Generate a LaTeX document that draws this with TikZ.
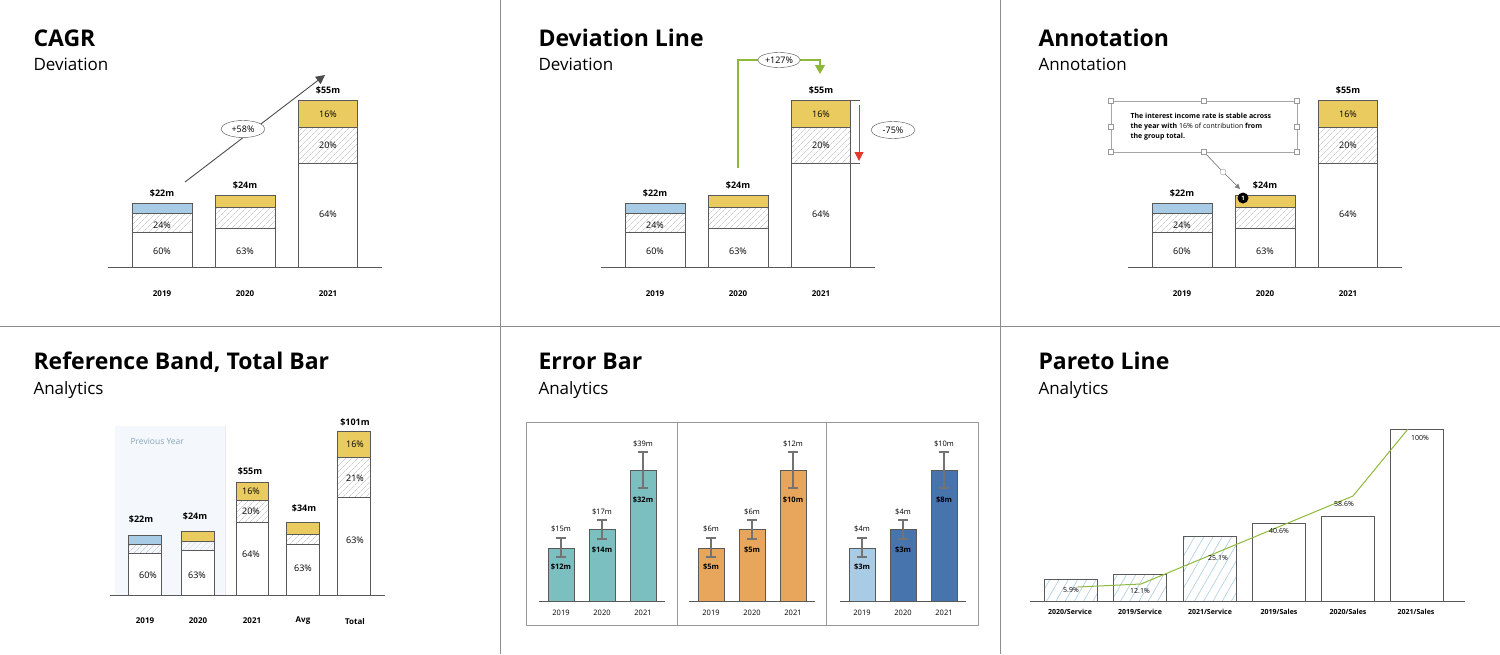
\documentclass[tikz,border=0pt]{standalone}
\usepackage{fontspec}
\setmainfont{Open Sans}
\usetikzlibrary{patterns.meta,arrows.meta,shapes.geometric}
\definecolor{cyel}{HTML}{EACB60}
\definecolor{cblu}{HTML}{A9CCE6}
\definecolor{cteal}{HTML}{7BBFC1}
\definecolor{corg}{HTML}{E8A65C}
\definecolor{cdblu}{HTML}{4874AD}
\definecolor{cgrn}{HTML}{8DB83A}
\definecolor{cred}{HTML}{E03A2E}
\definecolor{cband}{HTML}{F4F8FC}
\begin{document}
\begin{tikzpicture}[x=1pt,y=-1pt]
		\tikzset{ttl/.style={anchor=base west, font=\fontsize{23}{23}\selectfont\bfseries},
			sub/.style={anchor=base west, font=\fontsize{17}{17}\selectfont},
			val/.style={font=\fontsize{9}{9}\selectfont\bfseries},
			pct/.style={font=\fontsize{9}{9}\selectfont},
			yr/.style={font=\fontsize{8}{8}\selectfont\bfseries},
			bar/.style={draw=black!65, line width=0.9pt},
			hatch/.style={bar, pattern={Lines[angle=45,distance=4pt,line width=0.3pt]}, pattern color=black!30},
			bhatch/.style={bar, pattern={Lines[angle=60,distance=8pt,line width=0.6pt]}, pattern color=cblu},
			base/.style={draw=black!65, line width=0.9pt},
			oval/.style={draw=black!70, ellipse, inner sep=1pt, minimum width=44pt, minimum height=17pt, font=\fontsize{9}{9}\selectfont},
			hnd/.style={draw=black!40, fill=white, minimum size=5pt, inner sep=0pt}};
		\useasboundingbox (0,0) rectangle (1500,654);

		% panel grid
		\draw[black!45, line width=1pt] (500,0) -- (500,654);
		\draw[black!45, line width=1pt] (1000,0) -- (1000,654);
		\draw[black!45, line width=1pt] (0,326) -- (1500,326);

		% titles
		\node[ttl] (t1) at (30,46) {CAGR};
		\node[sub] (s1) at (30,70) {Deviation};
		\node[ttl] (t2) at (535,46) {Deviation Line};
		\node[sub] (s2) at (535,70) {Deviation};
		\node[ttl] (t3) at (1035,46) {Annotation};
		\node[sub] (s3) at (1035,70) {Annotation};
		\node[ttl] (t4) at (30,369) {Reference Band, Total Bar};
		\node[sub] (s4) at (30,394) {Analytics};
		\node[ttl] (t5) at (535,369) {Error Bar};
		\node[sub] (s5) at (535,394) {Analytics};
		\node[ttl] (t6) at (1035,369) {Pareto Line};
		\node[sub] (s6) at (1035,394) {Analytics};

		% three stacked bar charts
		\foreach \dx/\bx in {0/a, 493/b, 1020/c} {
			\draw[base] (108+\dx,267) -- (382+\dx,267);
			\draw[bar, fill=cblu] (132+\dx,203) rectangle (192+\dx,213);
			\draw[hatch] (132+\dx,213) rectangle (192+\dx,232);
			\draw[bar, fill=white] (132+\dx,232) rectangle (192+\dx,267);
			\draw[bar, fill=cyel] (215+\dx,195) rectangle (275+\dx,207);
			\draw[hatch] (215+\dx,207) rectangle (275+\dx,228);
			\draw[bar, fill=white] (215+\dx,228) rectangle (275+\dx,267);
			\draw[bar, fill=cyel] (298+\dx,100) rectangle (357+\dx,127);
			\draw[hatch] (298+\dx,127) rectangle (357+\dx,163);
			\draw[bar, fill=white] (298+\dx,163) rectangle (357+\dx,267);
			\node[val] (\bx v1) at (162+\dx,193) {\$22m};
			\node[val] (\bx v2) at (245+\dx,185) {\$24m};
			\node[val] (\bx v3) at (328+\dx,90) {\$55m};
			\node[pct] (\bx p1) at (162+\dx,225) {24\%};
			\node[pct] (\bx p2) at (162+\dx,251) {60\%};
			\node[pct] (\bx p3) at (245+\dx,251) {63\%};
			\node[pct] (\bx p4) at (328+\dx,114) {16\%};
			\node[pct] (\bx p5) at (328+\dx,145) {20\%};
			\node[pct] (\bx p6) at (328+\dx,214) {64\%};
			\node[yr] (\bx y1) at (162+\dx,294) {2019};
			\node[yr] (\bx y2) at (245+\dx,294) {2020};
			\node[yr] (\bx y3) at (328+\dx,294) {2021};
		}

		% CAGR arrow
		\coordinate (cg0) at (185,182);
		\coordinate (cg1) at (325,75);
		\draw[black!70, line width=0.9pt, -{Triangle[length=9pt,width=9pt]}] (cg0) -- (cg1);
		\node[oval, fill=white] (cagr) at (243,129) {+58\%};

		% deviation line
		\coordinate (dv0) at (738,168);
		\coordinate (dv1) at (738,60);
		\coordinate (dv2) at (820,60);
		\coordinate (dv3) at (820,74);
		\draw[cgrn, line width=1.1pt, -{Triangle[length=9pt,width=10pt]}] (dv0) -- (dv1) -- (dv2) -- (dv3);
		\node[oval, fill=white, minimum width=42pt, minimum height=15pt] (dev) at (779,60) {+127\%};
		\draw[black!65, line width=0.8pt] (850,100) -- (860,100);
		\draw[black!65, line width=0.8pt] (850,163) -- (860,163);
		\coordinate (rd0) at (859,105);
		\coordinate (rd1) at (859,161);
		\draw[cred, line width=1pt, -{Triangle[length=9pt,width=9pt]}] (rd0) -- (rd1);
		\node[oval] (drop) at (893,130) {-75\%};

		% annotation
		\draw[black!35, line width=1pt] (1111,101) rectangle (1297,152);
		\foreach \hx/\hy [count=\i] in {1111/101, 1204/101, 1297/101, 1111/127, 1297/127, 1111/152, 1204/152, 1297/152}
			\node[hnd] (h\i) at (\hx,\hy) {};
		\node[anchor=north west, align=left, font=\fontsize{7}{10}\selectfont\bfseries] (note) at (1127,110)
			{The interest income rate is stable across\\the year with \mdseries 16\% of contribution \bfseries from\\the group total.};
		\node[draw=black!40, circle, fill=white, minimum size=6pt, inner sep=0pt] (knob) at (1223,172) {};
		\coordinate (ap) at (1240,189);
		\draw[black!50, line width=0.7pt] (h7) -- (knob);
		\draw[black!50, line width=0.7pt, -{Triangle[length=5pt,width=5pt]}] (knob) -- (ap);
		\node[circle, fill=black, text=white, inner sep=0pt, minimum size=11pt, font=\fontsize{6}{6}\selectfont\bfseries] (one) at (1243,198) {1};

		% reference band
		\fill[cband] (115,426) rectangle (225,595);
		\draw[black!8] (225,426) -- (225,595);
		\node[anchor=base west, text=cblu!80!black, font=\fontsize{8.5}{8.5}\selectfont] (prev) at (127,444) {Previous Year};
		\draw[base] (110,595) -- (385,595);
		\draw[bar, fill=cblu] (128,535) rectangle (161,544);
		\draw[hatch] (128,544) rectangle (161,553);
		\draw[bar, fill=white] (128,553) rectangle (161,595);
		\draw[bar, fill=cyel] (181,531) rectangle (214,541);
		\draw[hatch] (181,541) rectangle (214,550);
		\draw[bar, fill=white] (181,550) rectangle (214,595);
		\draw[bar, fill=cyel] (236,482) rectangle (268,500);
		\draw[hatch] (236,500) rectangle (268,522);
		\draw[bar, fill=white] (236,522) rectangle (268,595);
		\draw[bar, fill=cyel] (286,522) rectangle (319,534);
		\draw[hatch] (286,534) rectangle (319,544);
		\draw[bar, fill=white] (286,544) rectangle (319,595);
		\draw[bar, fill=cyel] (337,431) rectangle (370,457);
		\draw[hatch] (337,457) rectangle (370,497);
		\draw[bar, fill=white] (337,497) rectangle (370,595);
		\node[val] (rv1) at (141,519) {\$22m};
		\node[val] (rv2) at (195,516) {\$24m};
		\node[val] (rv3) at (250,471) {\$55m};
		\node[val] (rv4) at (304,508) {\$34m};
		\node[val] (rv5) at (355,422) {\$101m};
		\node[pct] (rp1) at (148,575) {60\%};
		\node[pct] (rp2) at (197,575) {63\%};
		\node[pct] (rp3) at (251,491) {16\%};
		\node[pct] (rp4) at (251,511) {20\%};
		\node[pct] (rp5) at (251,554) {64\%};
		\node[pct] (rp6) at (303,568) {63\%};
		\node[pct] (rp7) at (355,444) {16\%};
		\node[pct] (rp8) at (355,478) {21\%};
		\node[pct] (rp9) at (355,540) {63\%};
		\foreach \lx/\lt [count=\i] in {145/2019, 198/2020, 252/2021, 303/Avg, 355/Total}
			\node[yr] (ry\i) at (\lx,621) {\lt};

		% error bars
		\draw[black!40, line width=1pt] (526,422) rectangle (978,625);
		\draw[black!40, line width=1pt] (677,422) -- (677,625);
		\draw[black!40, line width=1pt] (826,422) -- (826,625);
		\foreach \dx/\ca/\cb/\cc/\va/\vb/\vc/\wa/\wb/\wc [count=\k] in {
				0/cteal/cteal/cteal/15/17/39/12/14/32,
				150/corg/corg/corg/6/6/12/5/5/10,
				301/cblu/cdblu/cdblu/4/4/10/3/3/8} {
			\draw[base] (539+\dx,601) -- (665+\dx,601);
			\draw[bar, fill=\ca] (548+\dx,548) rectangle (574+\dx,601);
			\draw[bar, fill=\cb] (589+\dx,529) rectangle (615+\dx,601);
			\draw[bar, fill=\cc] (630+\dx,470) rectangle (656+\dx,601);
			\draw[black!55, line width=1.1pt] (556+\dx,538) -- (566+\dx,538) (561+\dx,538) -- (561+\dx,557) (556+\dx,557) -- (566+\dx,557);
			\draw[black!55, line width=1.1pt] (597+\dx,520) -- (607+\dx,520) (602+\dx,520) -- (602+\dx,539) (597+\dx,539) -- (607+\dx,539);
			\draw[black!55, line width=1.1pt] (638+\dx,452) -- (648+\dx,452) (643+\dx,452) -- (643+\dx,488) (638+\dx,488) -- (648+\dx,488);
			\node[pct, font=\fontsize{7.5}{7.5}\selectfont] (eu\k a) at (561+\dx,529) {\$\va m};
			\node[pct, font=\fontsize{7.5}{7.5}\selectfont] (eu\k b) at (602+\dx,512) {\$\vb m};
			\node[pct, font=\fontsize{7.5}{7.5}\selectfont] (eu\k c) at (643+\dx,444) {\$\vc m};
			\node[val, font=\fontsize{7.5}{7.5}\selectfont\bfseries] (el\k a) at (561+\dx,567) {\$\wa m};
			\node[val, font=\fontsize{7.5}{7.5}\selectfont\bfseries] (el\k b) at (602+\dx,550) {\$\wb m};
			\node[val, font=\fontsize{7.5}{7.5}\selectfont\bfseries] (el\k c) at (643+\dx,500) {\$\wc m};
			\node[pct, font=\fontsize{7.5}{7.5}\selectfont] (ey\k a) at (561+\dx,613) {2019};
			\node[pct, font=\fontsize{7.5}{7.5}\selectfont] (ey\k b) at (602+\dx,613) {2020};
			\node[pct, font=\fontsize{7.5}{7.5}\selectfont] (ey\k c) at (643+\dx,613) {2021};
		}

		% pareto
		\draw[base] (1030,601) -- (1465,601);
		\draw[bhatch] (1044,579) rectangle (1097,601);
		\draw[bhatch] (1113,574) rectangle (1166,601);
		\draw[bhatch] (1183,536) rectangle (1236,601);
		\draw[bar] (1252,523) rectangle (1305,601);
		\draw[bar] (1321,516) rectangle (1374,601);
		\draw[bar] (1390,429) rectangle (1443,601);
		\coordinate (pl1) at (1078,587);
		\coordinate (pl2) at (1141,584);
		\coordinate (pl3) at (1353,496);
		\coordinate (pl4) at (1408,429);
		\draw[cgrn, line width=1pt] (pl1) -- (pl2) -- (pl3) -- (pl4);
		\foreach \px/\py/\pt [count=\i] in {1071/590/{5.9\%}, 1140/591/{12.1\%}, 1218/558/{25.1\%}, 1279/531/{40.6\%}, 1344/504/{58.6\%}, 1420/438/{100\%}}
			\node[pct, font=\fontsize{7}{7}\selectfont] (pv\i) at (\px,\py) {\pt};
		\foreach \px/\pt [count=\i] in {1070/{2020/Service}, 1140/{2019/Service}, 1210/{2021/Service}, 1279/{2019/Sales}, 1348/{2020/Sales}, 1416/{2021/Sales}}
			\node[val, font=\fontsize{7}{7}\selectfont\bfseries] (px\i) at (\px,612) {\pt};
	\end{tikzpicture}
\end{document}
